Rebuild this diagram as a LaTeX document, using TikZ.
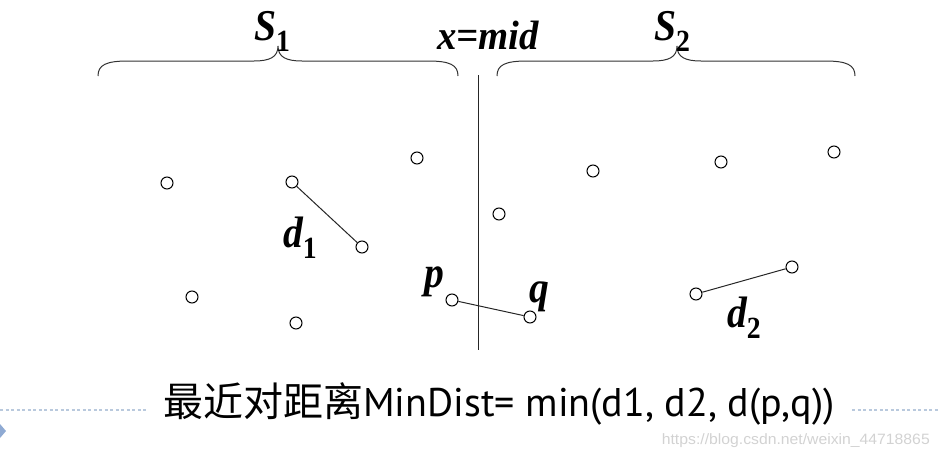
\documentclass[tikz,border=0pt]{standalone}
\usepackage{fontspec}
\usepackage{xcolor}
\usepackage{tikz}
\usetikzlibrary{positioning}
\newfontfamily\tnr{Liberation Serif}
\newfontfamily\gill{PT Sans}
\newfontfamily\cjk{Noto Sans CJK SC}
\newfontfamily\wmark{Liberation Sans}
\definecolor{DotRule}{HTML}{B9C9DD}
\definecolor{Marker}{HTML}{8FAAD3}
\definecolor{WmGray}{HTML}{D2D2D2}

% curly brace, tip pointing up: left x, tip x, right x, end y, flat y, tip y
\newcommand{\setbrace}[6]{%
  \draw[brace] (#1,#4) .. controls (#1,#5+4) and (#1+8,#5) .. (#1+30,#5)
    -- (#2-24,#5) .. controls (#2-8,#5) and (#2,#5-4) .. (#2,#6)
    .. controls (#2,#5-4) and (#2+8,#5) .. (#2+24,#5)
    -- (#3-30,#5) .. controls (#3-8,#5) and (#3,#5+4) .. (#3,#4);}
\newcommand{\sub}[1]{\textsubscript{\upshape #1}}

\begin{document}
\begin{tikzpicture}[x=1pt, y=-1pt,
  pt/.style={circle, draw, fill=white, line width=1pt, minimum size=12pt, inner sep=0pt},
  seg/.style={draw=black!85, line width=1pt},
  brace/.style={draw=black!80, line width=1pt},
  lbl/.style={font=\tnr\bfseries\itshape\fontsize{44}{48}\selectfont, xscale=0.9, inner sep=0pt, anchor=base west},
  dotrule/.style={draw=DotRule, line width=1.6pt, dash pattern=on 3pt off 2.5pt}]
  \useasboundingbox (0,0) rectangle (940,455);

  % dividing line
  \coordinate (midtop) at (478,75);
  \coordinate (midbot) at (478,350);
  \draw[seg] (midtop) -- (midbot);

  % braces and set names
  \setbrace{98}{278}{458}{76}{61}{46}
  \setbrace{497}{677}{855}{76}{61}{46}
  \node[lbl] (s1) at (254,40) {S\sub{1}};
  \node[lbl] (s2) at (654,40) {S\sub{2}};
  \node[lbl, font=\tnr\bfseries\itshape\fontsize{41}{44}\selectfont, xscale=1.05] (mid) at (437,49) {x=mid};

  % points in S1
  \node[pt] (a1) at (167,183) {};
  \node[pt] (a2) at (292,182) {};
  \node[pt] (a3) at (362,247) {};
  \node[pt] (a4) at (417,158) {};
  \node[pt] (a5) at (192,297) {};
  \node[pt] (a6) at (296,323) {};
  \node[pt] (p) at (452,300) {};

  % points in S2
  \node[pt] (q) at (530,317) {};
  \node[pt] (b1) at (499,214) {};
  \node[pt] (b2) at (593,171) {};
  \node[pt] (b3) at (721,162) {};
  \node[pt] (b4) at (834,152) {};
  \node[pt] (b5) at (696,294) {};
  \node[pt] (b6) at (792,267) {};

  % closest pairs
  \draw[seg] (a2) -- (a3);
  \draw[seg] (p) -- (q);
  \draw[seg] (b5) -- (b6);
  \node[lbl] (d1) at (283,247) {d\sub{1}};
  \node[lbl] (d2) at (727,327) {d\sub{2}};
  \node[lbl] (plbl) at (424,287) {p};
  \node[lbl] (qlbl) at (529,302) {q};

  % formula
  \node[inner sep=0pt, anchor=base] (formula) at (499,416)
    {\cjk\fontsize{40}{44}\selectfont 最近对距离\gill\fontsize{40}{44}\selectfont MinDist= min(d1, d2, d(p,q))};

  % slide leftovers
  \coordinate (rl0) at (0,410);
  \coordinate (rl1) at (148,410);
  \coordinate (rr0) at (852,410);
  \coordinate (rr1) at (940,410);
  \draw[dotrule] (rl0) -- (rl1);
  \draw[dotrule] (rr0) -- (rr1);
  \fill[Marker] (0,424) -- (6,431) -- (0,438) -- cycle;
  \node[font=\wmark\fontsize{15}{16}\selectfont, text=WmGray, inner sep=0pt, anchor=base east, xscale=1.05] (wm) at (930,444) {https://blog.csdn.net/weixin\_44718865};
\end{tikzpicture}
\end{document}
